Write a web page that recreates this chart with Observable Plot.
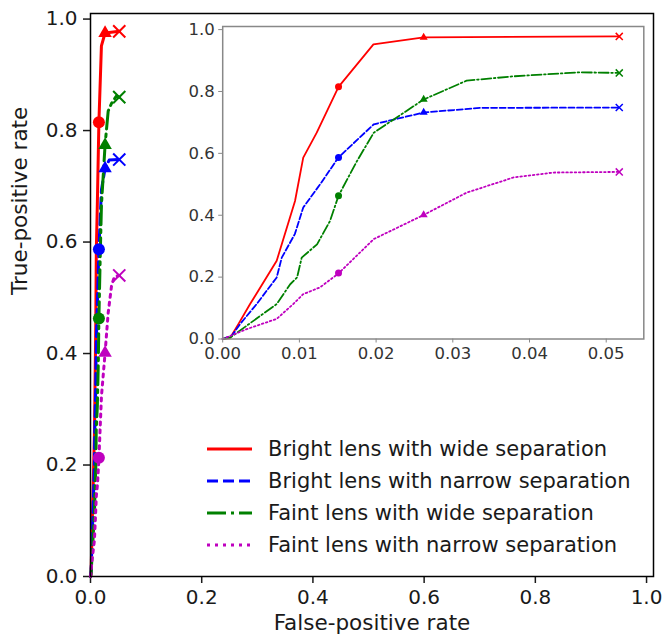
<!DOCTYPE html>
<html><head><meta charset="utf-8">
<script src="https://cdn.jsdelivr.net/npm/d3@7"></script>
<script src="https://cdn.jsdelivr.net/npm/@observablehq/plot@0.6"></script>
<style>
html,body{margin:0;padding:0;background:#fff;}
#wrap{position:relative;width:665px;height:638px;font-family:"DejaVu Sans",sans-serif;overflow:hidden;}
#wrap > svg{position:absolute;}
</style></head><body><div id="wrap"></div>
<script>
// ---- data ----
const seriesNames = [
  "Bright lens with wide separation",
  "Bright lens with narrow separation",
  "Faint lens with wide separation",
  "Faint lens with narrow separation"
];
const seriesColors = ["#ff0000", "#0000ff", "#008000", "#bf00bf"];

const redX = [0, 0.00096, 0.00204, 0.00357, 0.00704, 0.00943, 0.0105, 0.01226, 0.0151, 0.01965, 0.0262, 0.0517];
const redY = [0, 0.003, 0.048, 0.113, 0.253, 0.446, 0.586, 0.667, 0.815, 0.952, 0.975, 0.978];

const blueX = [0, 0.0012, 0.00226, 0.00443, 0.00704, 0.0077, 0.0094, 0.0105, 0.0127, 0.0151, 0.0197, 0.0262, 0.0336, 0.0517];
const blueY = [0, 0.011, 0.048, 0.113, 0.199, 0.263, 0.339, 0.425, 0.5, 0.587, 0.694, 0.732, 0.747, 0.748];

const greenX = [0, 0.001, 0.00313, 0.00704, 0.0088, 0.0097, 0.0103, 0.0123, 0.014, 0.0151, 0.0175, 0.0197, 0.0262, 0.0318, 0.0379, 0.0466, 0.0517];
const greenY = [0, 0.005, 0.043, 0.113, 0.177, 0.199, 0.263, 0.306, 0.382, 0.463, 0.575, 0.667, 0.774, 0.835, 0.849, 0.862, 0.860];

const magentaX = [0, 0.00313, 0.00704, 0.0092, 0.0105, 0.0127, 0.0151, 0.0197, 0.0262, 0.0318, 0.0379, 0.0431, 0.0517];
const magentaY = [0, 0.032, 0.065, 0.113, 0.145, 0.167, 0.212, 0.323, 0.401, 0.473, 0.522, 0.538, 0.540];

// marker points (circle, triangle, cross) per series
const circleX = [0.0151, 0.0151, 0.0151, 0.0151];
const circleY = [0.815, 0.587, 0.463, 0.213];
const triangleX = [0.0262, 0.0262, 0.0262, 0.0262];
const triangleY = [0.975, 0.732, 0.774, 0.401];
const crossX = [0.0517, 0.0517, 0.0517, 0.0517];
const crossY = [0.978, 0.748, 0.860, 0.540];

const mainTicks = [0, 0.2, 0.4, 0.6, 0.8, 1.0];
const insetXTicks = [0, 0.01, 0.02, 0.03, 0.04, 0.05];
const insetYTicks = [0, 0.2, 0.4, 0.6, 0.8, 1.0];

// ---- tables ----
const curveXs = [redX, blueX, greenX, magentaX];
const curveYs = [redY, blueY, greenY, magentaY];
const curves = seriesNames.map((name, i) =>
  curveXs[i].map((x, j) => ({series: name, x, y: curveYs[i][j]})));
const markerRows = (xs, ys) => seriesNames.map((name, i) => ({series: name, x: xs[i], y: ys[i], color: seriesColors[i]}));
const circles = markerRows(circleX, circleY);
const triangles = markerRows(triangleX, triangleY);
const crosses = markerRows(crossX, crossY);

const dashMain = [null, "11,5", "19,5,3,5", "3,5"];
const dashInset = [null, "6,2.6", "10,2.6,1.6,2.6", "1.6,2.6"];

function curveMarks(lw, dashes, rc, rt, rx, xw) {
  return [
    ...curves.map((rows, i) => Plot.line(rows, {x: "x", y: "y", stroke: seriesColors[i], strokeWidth: lw, strokeDasharray: dashes[i] || undefined})),
    Plot.dot(circles, {x: "x", y: "y", r: rc, fill: "color", stroke: null, symbol: "circle"}),
    Plot.dot(triangles, {x: "x", y: "y", r: rt, fill: "color", stroke: null, symbol: "triangle"}),
    Plot.dot(crosses, {x: "x", y: "y", r: rx, stroke: "color", fill: "none", strokeWidth: xw, symbol: "times"})
  ];
}

const wrap = document.getElementById("wrap");

// ---- main chart ----
const main = Plot.plot({
  width: 665, height: 638,
  marginLeft: 90, marginRight: 12, marginTop: 13, marginBottom: 62,
  style: {fontFamily: "DejaVu Sans", fontSize: "20px", color: "#1a1a1a", background: "white", overflow: "visible"},
  x: {domain: [0, 1.0125], label: null},
  y: {domain: [0, 1.01], label: null},
  color: {type: "identity"},
  marks: [
    Plot.axisX({ticks: mainTicks, tickFormat: d3.format(".1f"), tickSize: 7, tickPadding: 6, label: null, strokeWidth: 1.5}),
    Plot.axisY({ticks: mainTicks, tickFormat: d3.format(".1f"), tickSize: 7, tickPadding: 6, label: null, strokeWidth: 1.5}),
    ...curveMarks(3, dashMain, 6, 5, 5.6, 2),
    Plot.frame({stroke: "black", strokeWidth: 1.5}),
    Plot.text(["False-positive rate"], {frameAnchor: "bottom", dy: 53, fontSize: 21.5, fill: "#1a1a1a"}),
    Plot.text(["True-positive rate"], {frameAnchor: "left", dx: -70, rotate: -90, fontSize: 21.5, fill: "#1a1a1a"})
  ]
});
main.style.left = "0px"; main.style.top = "0px";
wrap.appendChild(main);

// ---- inset chart ----
const inset = Plot.plot({
  width: 480, height: 350,
  marginLeft: 52.2, marginRight: 6.7, marginTop: 11, marginBottom: 26.5,
  style: {fontFamily: "DejaVu Sans", fontSize: "16.5px", color: "#333", background: "white", overflow: "visible"},
  x: {domain: [0, 0.0549], label: null},
  y: {domain: [0, 1.01], label: null},
  color: {type: "identity"},
  marks: [
    Plot.axisX({ticks: insetXTicks, tickFormat: d3.format(".2f"), tickSize: 4, tickPadding: 4, label: null, stroke: "#888", fill: "#333"}),
    Plot.axisY({ticks: insetYTicks, tickFormat: d3.format(".1f"), tickSize: 4, tickPadding: 4, label: null, stroke: "#888", fill: "#333"}),
    ...curveMarks(1.8, dashInset, 3.5, 3, 3.3, 1.5),
    Plot.frame({stroke: "#888", strokeWidth: 1.5})
  ]
});
inset.style.left = "170px"; inset.style.top = "15px";
wrap.appendChild(inset);

// ---- legend ----
const legend = d3.create("svg").attr("width", 480).attr("height", 150)
  .style("left", "190px").style("top", "420px").style("font-family", "DejaVu Sans");
const rowGap = 32, row0 = 29;
seriesNames.forEach((name, i) => {
  const g = legend.append("g").attr("transform", `translate(0,${row0 + i * rowGap})`);
  g.append("line").attr("x1", 17).attr("x2", 62).attr("y1", 0).attr("y2", 0)
    .attr("stroke", seriesColors[i]).attr("stroke-width", 3)
    .attr("stroke-dasharray", dashMain[i] || null);
  g.append("text").attr("x", 78).attr("y", 0).attr("dy", "0.35em")
    .attr("font-size", 21).attr("fill", "#1a1a1a").text(name);
});
wrap.appendChild(legend.node());
</script>
</body></html>
